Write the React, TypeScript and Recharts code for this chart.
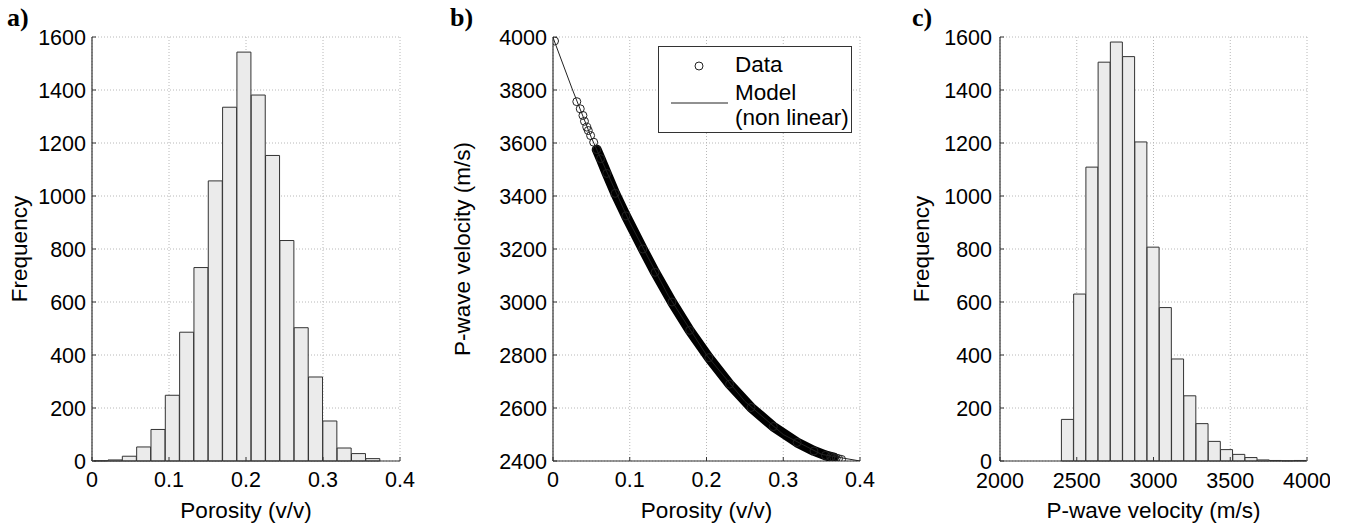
import {
  Bar,
  BarChart,
  CartesianGrid,
  Label,
  Scatter,
  ScatterChart,
  XAxis,
  YAxis,
} from "recharts"

// a) porosity histogram (20 bins)
const porosityBins = [
  0.0115, 0.0301, 0.0487, 0.0673, 0.0859, 0.1045, 0.1231, 0.1417, 0.1603, 0.1789,
  0.1975, 0.2161, 0.2347, 0.2533, 0.2719, 0.2905, 0.3091, 0.3277, 0.3463, 0.3649,
]
const porosityCounts = [
  1, 4, 18, 53, 119, 248, 486, 730, 1057, 1335, 1543, 1381, 1153, 832, 503, 317, 151, 49, 28, 9,
]

// c) P-wave velocity histogram (20 bins)
const velocityBins = [
  2439.9, 2519.6, 2599.4, 2679.1, 2758.9, 2838.6, 2918.4, 2998.1, 3077.9, 3157.6,
  3237.4, 3317.1, 3396.9, 3476.6, 3556.4, 3636.1, 3715.9, 3795.6, 3875.4, 3955.1,
]
const velocityCounts = [
  157, 630, 1109, 1505, 1581, 1526, 1204, 807, 579, 385, 246, 141, 74, 43, 25, 13, 4, 2, 1, 2,
]

// b) data points (porosity, velocity) read along the cloud
const phiData = [
  0.002, 0.031, 0.0355, 0.039, 0.041, 0.044, 0.046, 0.049, 0.053, 0.057, 0.062, 0.07, 0.081,
  0.095, 0.117, 0.133, 0.155, 0.178, 0.203, 0.23, 0.258, 0.287, 0.318, 0.34, 0.355, 0.362,
  0.366, 0.369, 0.372, 0.376,
]
const vpData = [
  3985, 3756, 3729, 3704, 3682, 3660, 3647, 3628, 3603, 3575, 3541, 3485, 3410, 3325, 3200,
  3112, 3000, 2893, 2790, 2690, 2602, 2530, 2470, 2438, 2421, 2416, 2413, 2411, 2409, 2406,
]

// b) non linear model
const phiModel = [0, 0.025, 0.05, 0.1, 0.15, 0.2, 0.25, 0.3, 0.35, 0.4]
const vpModel = [3998, 3804, 3620, 3300, 3025, 2800, 2625, 2500, 2425, 2400]

const porosityHist = porosityBins.map((x, i) => ({ x, count: porosityCounts[i] }))
const velocityHist = velocityBins.map((x, i) => ({ x, count: velocityCounts[i] }))
const dataPoints = phiData.map((phi, i) => ({ phi, vp: vpData[i] }))
const modelPoints = phiModel.map((phi, i) => ({ phi, vp: vpModel[i] }))
// where the circles pile up into a solid band
const densePoints = dataPoints.filter((d) => d.phi >= 0.057 && d.phi <= 0.366)

const FONT = "'Liberation Sans', Arial, Helvetica, sans-serif"
const INK = "#000"
const tickStyle = { fontSize: 21.5, fill: INK, fontFamily: FONT }
const gridProps = { stroke: "#b8b8b8", strokeDasharray: "1 2" }
const axisLine = { stroke: "#333", strokeWidth: 1.2 }

const freqTicks = [0, 200, 400, 600, 800, 1000, 1200, 1400, 1600]
const phiTicks = [0, 0.1, 0.2, 0.3, 0.4]
const vpTicks = [2400, 2600, 2800, 3000, 3200, 3400, 3600, 3800, 4000]
const velTicks = [2000, 2500, 3000, 3500, 4000]

const yTitle = (text: string, dx: number) => (props: any) => {
  const { x, y, height } = props.viewBox
  const cx = x + dx
  const cy = y + height / 2
  return (
    <text
      x={cx}
      y={cy}
      transform={`rotate(-90 ${cx} ${cy})`}
      textAnchor="middle"
      fontSize={22.5}
      fill={INK}
      fontFamily={FONT}
    >
      {text}
    </text>
  )
}

const xTitle = (text: string) => (props: any) => {
  const { x, y, width } = props.viewBox
  return (
    <text x={x + width / 2} y={y + 57} textAnchor="middle" fontSize={22.5} fill={INK} fontFamily={FONT}>
      {text}
    </text>
  )
}

// mirrored box axes (top / right) with inward ticks, like MATLAB "box on"
function boxAxes(xDomain: number[], xTicks: number[], yDomain: number[], yTicks: number[]) {
  return [
    <XAxis
      key="top"
      xAxisId="top"
      orientation="top"
      type="number"
      domain={xDomain}
      ticks={xTicks}
      height={0}
      tick={false}
      tickSize={-4}
      axisLine={axisLine}
      tickLine={{ stroke: "#333" }}
      allowDataOverflow
    />,
    <YAxis
      key="right"
      yAxisId="right"
      orientation="right"
      type="number"
      domain={yDomain}
      ticks={yTicks}
      width={0}
      tick={false}
      tickSize={-4}
      axisLine={axisLine}
      tickLine={{ stroke: "#333" }}
      allowDataOverflow
    />,
  ]
}

const panelLabel = (text: string, left: number) => (
  <div
    style={{
      position: "absolute",
      left,
      top: 3,
      fontFamily: "'Liberation Serif', 'Times New Roman', serif",
      fontWeight: "bold",
      fontSize: 26,
      color: INK,
    }}
  >
    {text}
  </div>
)

const legendText = { position: "absolute" as const, left: 76, fontSize: 22.5, fontFamily: FONT, color: INK, lineHeight: "24px" }

export default function App() {
  return (
    <div style={{ position: "absolute", left: 0, top: 0, width: 1345, height: 527, background: "#fff" }}>
      {panelLabel("a)", 7)}
      {panelLabel("b)", 450)}
      {panelLabel("c)", 912)}

      {/* a) porosity histogram */}
      <div style={{ position: "absolute", left: 0, top: 0 }}>
        <BarChart
          width={420}
          height={527}
          data={porosityHist}
          margin={{ top: 37, right: 20, bottom: 0, left: 0 }}
          barCategoryGap={0}
          barGap={0}
        >
          <CartesianGrid {...gridProps} />
          <XAxis
            dataKey="x"
            type="number"
            domain={[0, 0.4]}
            ticks={phiTicks}
            interval={0}
            height={66}
            tick={tickStyle}
            tickSize={-4}
            tickMargin={15}
            axisLine={axisLine}
            tickLine={{ stroke: "#333" }}
            allowDataOverflow
          >
            <Label content={xTitle("Porosity (v/v)")} />
          </XAxis>
          <YAxis
            type="number"
            domain={[0, 1600]}
            ticks={freqTicks}
            interval={0}
            width={92}
            tick={tickStyle}
            tickSize={-4}
            tickMargin={10}
            axisLine={axisLine}
            tickLine={{ stroke: "#333" }}
          >
            <Label content={yTitle("Frequency", 27)} />
          </YAxis>
          {boxAxes([0, 0.4], phiTicks, [0, 1600], freqTicks)}
          <Bar dataKey="count" fill="#ebebeb" stroke="#333" strokeWidth={1} isAnimationActive={false} />
        </BarChart>
      </div>

      {/* b) velocity vs porosity */}
      <div style={{ position: "absolute", left: 440, top: 0 }}>
        <ScatterChart width={440} height={527} margin={{ top: 37, right: 20, bottom: 0, left: 0 }}>
          <CartesianGrid {...gridProps} />
          <XAxis
            dataKey="phi"
            type="number"
            domain={[0, 0.4]}
            ticks={phiTicks}
            interval={0}
            height={66}
            tick={tickStyle}
            tickSize={-4}
            tickMargin={15}
            axisLine={axisLine}
            tickLine={{ stroke: "#333" }}
            allowDataOverflow
          >
            <Label content={xTitle("Porosity (v/v)")} />
          </XAxis>
          <YAxis
            dataKey="vp"
            type="number"
            domain={[2400, 4000]}
            ticks={vpTicks}
            interval={0}
            width={113}
            tick={tickStyle}
            tickSize={-4}
            tickMargin={10}
            axisLine={axisLine}
            tickLine={{ stroke: "#333" }}
            allowDataOverflow
          >
            <Label content={yTitle("P-wave velocity (m/s)", 30)} />
          </YAxis>
          {boxAxes([0, 0.4], phiTicks, [2400, 4000], vpTicks)}
          <Scatter
            data={densePoints}
            line={{ stroke: "#000", strokeWidth: 10, strokeLinecap: "round", strokeLinejoin: "round" }}
            shape={() => <g />}
            isAnimationActive={false}
          />
          <Scatter
            data={dataPoints}
            shape={(p: any) => <circle cx={p.cx} cy={p.cy} r={4} fill="none" stroke="#222" strokeWidth={1} />}
            isAnimationActive={false}
          />
          <Scatter
            data={modelPoints}
            line={{ stroke: "#222", strokeWidth: 1 }}
            shape={() => <g />}
            isAnimationActive={false}
          />
        </ScatterChart>
      </div>

      {/* legend of b) */}
      <div
        style={{
          position: "absolute",
          left: 658,
          top: 46,
          width: 192,
          height: 85,
          border: "1px solid #333",
          background: "#fff",
        }}
      >
        <svg width={192} height={85} style={{ position: "absolute", left: 0, top: 0 }}>
          <circle cx={40} cy={19} r={4} fill="none" stroke="#222" strokeWidth={1} />
          <line x1={12} x2={69} y1={56} y2={56} stroke="#222" strokeWidth={1} />
        </svg>
        <div style={{ ...legendText, top: 6 }}>Data</div>
        <div style={{ ...legendText, top: 34 }}>Model</div>
        <div style={{ ...legendText, top: 59 }}>(non linear)</div>
      </div>

      {/* c) velocity histogram */}
      <div style={{ position: "absolute", left: 900, top: 0 }}>
        <BarChart
          width={430}
          height={527}
          data={velocityHist}
          margin={{ top: 37, right: 23, bottom: 0, left: 0 }}
          barCategoryGap={0}
          barGap={0}
        >
          <CartesianGrid {...gridProps} />
          <XAxis
            dataKey="x"
            type="number"
            domain={[2000, 4000]}
            ticks={velTicks}
            interval={0}
            height={66}
            tick={tickStyle}
            tickSize={-4}
            tickMargin={16}
            axisLine={axisLine}
            tickLine={{ stroke: "#333" }}
            allowDataOverflow
          >
            <Label content={xTitle("P-wave velocity (m/s)")} />
          </XAxis>
          <YAxis
            type="number"
            domain={[0, 1600]}
            ticks={freqTicks}
            interval={0}
            width={100}
            tick={tickStyle}
            tickSize={-4}
            tickMargin={12}
            axisLine={axisLine}
            tickLine={{ stroke: "#333" }}
          >
            <Label content={yTitle("Frequency", 29)} />
          </YAxis>
          {boxAxes([2000, 4000], velTicks, [0, 1600], freqTicks)}
          <Bar dataKey="count" fill="#ebebeb" stroke="#333" strokeWidth={1} isAnimationActive={false} />
        </BarChart>
      </div>
    </div>
  )
}
